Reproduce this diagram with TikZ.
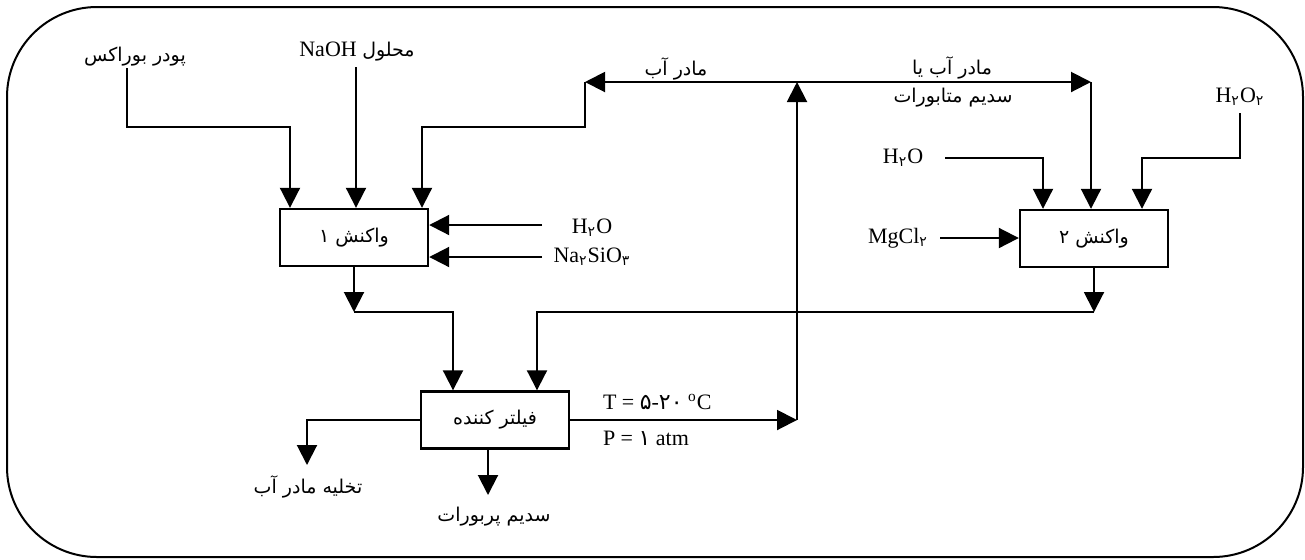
\documentclass[tikz,border=0pt]{standalone}
\usepackage{fontspec}
\setmainfont{Liberation Serif}
\newfontfamily\af[Script=Arabic]{DejaVu Sans}
\TeXXeTstate=1
\usetikzlibrary{arrows.meta,calc}
\newcommand{\fa}[1]{{\af\fontsize{9.5}{11}\selectfont\beginR #1\endR}}
\newcommand{\fd}[1]{{\af #1}}
\newcommand{\sbd}[1]{\textsubscript{\af\fontsize{7}{8}\selectfont #1}}
\begin{document}
\begin{tikzpicture}[x=0.5pt,y=-0.5pt,
  line width=1pt,
  arr/.style={-{Triangle[length=10pt,width=10pt]}},
  box/.style={draw,line width=1.2pt,minimum width=74pt,minimum height=28.5pt,inner sep=0pt},
  lab/.style={inner sep=1pt},
  font=\fontsize{11}{13}\selectfont]
\useasboundingbox (0,0) rectangle (1305,559);
\draw[line width=1pt, rounded corners=45pt] (7,7) rectangle (1303,557);

% units
\node[box] (r1) at (354,237.5) {\fa{واکنش ۱}};
\node[box] (r2) at (1094,238.5) {\fa{واکنش ۲}};
\node[box] (f) at (495,420) {\fa{فیلتر کننده}};

% labels
\node[lab] (borax) at (135,57) {\fa{پودر بوراکس}};
\node[lab] (naoh) at (357,52) {NaOH \fa{محلول}};
\node[lab] (mab) at (676,69) {\fa{مادر آب}};
\node[lab] (mab2) at (952,68) {\fa{مادر آب یا}};
\node[lab] (smb) at (953,98) {\fa{سدیم متابورات}};
\node[lab] (h2o2) at (1240,97) {H\sbd{۲}O\sbd{۲}};
\node[lab] (h2ob) at (903,158) {H\sbd{۲}O};
\node[lab] (mgcl) at (898,238) {MgCl\sbd{۲}};
\node[lab] (h2oa) at (592,228) {H\sbd{۲}O};
\node[lab] (nasio) at (592,257) {Na\sbd{۲}SiO\sbd{۳}};
\node[lab,anchor=west] (tlab) at (600,402) {T = \fd{۵}-\fd{۲۰} \textsuperscript{o}C};
\node[lab,anchor=west] (plab) at (600,438) {P = \fd{۱} atm};
\node[lab] (drain) at (308,487) {\fa{تخلیه مادر آب}};
\node[lab] (perb) at (494,517) {\fa{سدیم پربورات}};

% coordinates
\coordinate (b0) at (127,68);
\coordinate (i1) at (290,127);
\coordinate (n0) at (356,67);
\coordinate (j0) at (797,420);
\coordinate (j1) at (797,82);
\coordinate (m0) at (585,82);
\coordinate (i3) at (422,127);
\coordinate (m1) at (1091,82);
\coordinate (h0) at (542,225);
\coordinate (s0) at (542,257);
\coordinate (w0) at (945,158);
\coordinate (w1) at (1043,158);
\coordinate (p0) at (1240,113);
\coordinate (p1) at (1142,158);
\coordinate (g0) at (940,238);
\coordinate (k0) at (353,312);
\coordinate (k1) at (453,312);
\coordinate (q0) at (1094,312);
\coordinate (q1) at (537,312);
\coordinate (d0) at (307,465);
\coordinate (e0) at (488,495);

% reactor 1 inputs
\draw[arr] (b0) |- (i1) -- (i1 |- r1.north);
\draw[arr] (n0) -- (n0 |- r1.north);
\draw[arr] (h0) -- (h0 -| r1.east);
\draw[arr] (s0) -- (s0 -| r1.east);

% recycle
\draw[arr] (f.east) -- (j0);
\draw[arr] (j0) -- (j1);
\draw[arr] (j1) -- (m0);
\draw[arr] (m0) |- (i3) -- (i3 |- r1.north);
\draw[arr] (j1) -- (m1);
\draw[arr] (m1) -- (m1 |- r2.north);

% reactor 2 inputs
\draw[arr] (w0) -- (w1) -- (w1 |- r2.north);
\draw[arr] (p0) |- (p1) -- (p1 |- r2.north);
\draw[arr] (g0) -- (g0 -| r2.west);

% reactor outputs to filter
\draw[arr] (r1.south) -- (r1.south |- k0);
\draw[arr] (r1.south |- k0) -- (k1) -- (k1 |- f.north);
\draw[arr] (r2.south) -- (r2.south |- q0);
\draw[arr] (r2.south |- q0) -- (q1) -- (q1 |- f.north);

% filter outputs
\draw[arr] (f.west) -| (d0);
\draw[arr] (e0 |- f.south) -- (e0);
\end{tikzpicture}
\end{document}
